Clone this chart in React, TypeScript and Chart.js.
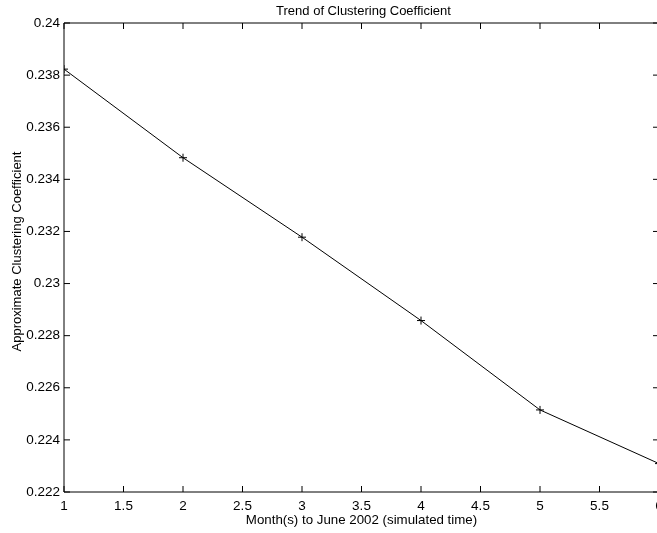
import React, { useEffect, useRef } from "react";
import { Chart, registerables } from "chart.js";

Chart.register(...registerables);

const months = [1, 2, 3, 4, 5, 6];
const clusteringCoefficient = [0.23823, 0.23483, 0.23178, 0.22858, 0.22515, 0.22309];
const xTicks = [1, 1.5, 2, 2.5, 3, 3.5, 4, 4.5, 5, 5.5, 6];
const yTicks = [0.222, 0.224, 0.226, 0.228, 0.23, 0.232, 0.234, 0.236, 0.238, 0.24];
const chartTitle = "Trend of Clustering Coefficient";
const xTitle = "Month(s) to June 2002 (simulated time)";
const yTitle = "Approximate Clustering Coefficient";

const FONT = "Liberation Sans, Arial, Helvetica, sans-serif";
const TICK_LEN = 6;

const boxPlugin = {
  id: "matlabBox",
  afterDraw(chart: any) {
    const { ctx, chartArea } = chart;
    const { left, right, top, bottom } = chartArea;
    const xs = chart.scales.x;
    const ys = chart.scales.y;
    ctx.save();
    ctx.strokeStyle = "#000";
    ctx.lineWidth = 1;
    ctx.beginPath();
    ctx.rect(left, top, right - left, bottom - top);
    ctx.stroke();
    ctx.beginPath();
    for (const v of xTicks) {
      const px = xs.getPixelForValue(v);
      ctx.moveTo(px, bottom);
      ctx.lineTo(px, bottom - TICK_LEN);
      ctx.moveTo(px, top);
      ctx.lineTo(px, top + TICK_LEN);
    }
    for (const v of yTicks) {
      const py = ys.getPixelForValue(v);
      ctx.moveTo(left, py);
      ctx.lineTo(left + TICK_LEN, py);
      ctx.moveTo(right, py);
      ctx.lineTo(right - TICK_LEN, py);
    }
    ctx.stroke();
    ctx.fillStyle = "#000";
    ctx.font = `13px ${FONT}`;
    ctx.textAlign = "center";
    // chart title
    ctx.textBaseline = "alphabetic";
    ctx.fillText(chartTitle, (left + right) / 2 + 2, 14.5);
    // y axis title
    ctx.save();
    ctx.translate(17, (top + bottom) / 2 - 6);
    ctx.rotate(-Math.PI / 2);
    ctx.textBaseline = "middle";
    ctx.fillText(yTitle, 0, 0);
    ctx.restore();
    ctx.restore();
  },
};

export default function App() {
  const ref = useRef<HTMLCanvasElement | null>(null);
  useEffect(() => {
    if (!ref.current) return;
    const chart = new Chart(ref.current, {
      type: "line",
      data: {
        datasets: [
          {
            data: months.map((m, i) => ({ x: m, y: clusteringCoefficient[i] })),
            borderColor: "#000",
            borderWidth: 1,
            pointStyle: "cross",
            pointRadius: 4,
            pointBorderWidth: 1,
            pointBorderColor: "#000",
            pointBackgroundColor: "#000",
            fill: false,
            tension: 0,
          },
        ],
      },
      plugins: [boxPlugin],
      options: {
        animation: false,
        responsive: false,
        devicePixelRatio: 1,
        events: [],
        layout: { padding: { left: 0, right: 21, top: 23, bottom: 0 } },
        plugins: {
          legend: { display: false },
          tooltip: { enabled: false },
          title: { display: false },
        },
        scales: {
          x: {
            type: "linear",
            min: 1,
            max: 6,
            afterBuildTicks: (scale: any) => {
              scale.ticks = xTicks.map((v) => ({ value: v }));
            },
            afterFit: (scale: any) => {
              scale.height = 41;
            },
            grid: { display: false, drawTicks: false },
            border: { display: false },
            ticks: {
              color: "#000",
              padding: 6,
              maxRotation: 0,
              autoSkip: false,
              font: { family: FONT, size: 13.5 },
              callback: (v: any) => String(Number(Number(v).toFixed(3))),
            },
            title: {
              display: true,
              text: xTitle,
              color: "#000",
              font: { family: FONT, size: 13.3 },
              padding: { top: 0, bottom: 5 },
            },
          },
          y: {
            type: "linear",
            min: 0.222,
            max: 0.24,
            afterBuildTicks: (scale: any) => {
              scale.ticks = yTicks.map((v) => ({ value: v }));
            },
            afterFit: (scale: any) => {
              scale.width = 64;
            },
            grid: { display: false, drawTicks: false },
            border: { display: false },
            ticks: {
              color: "#000",
              padding: 4,
              autoSkip: false,
              font: { family: FONT, size: 13.5 },
              callback: (v: any) => String(Number(Number(v).toFixed(3))),
            },
            title: { display: false },
          },
        },
      },
    } as any);
    return () => chart.destroy();
  }, []);
  return (
    <div
      style={{
        position: "fixed",
        left: 0,
        top: 0,
        width: 657,
        height: 533,
        overflow: "hidden",
        background: "#fff",
      }}
    >
      <canvas ref={ref} width={680} height={533} style={{ display: "block" }} />
    </div>
  );
}
